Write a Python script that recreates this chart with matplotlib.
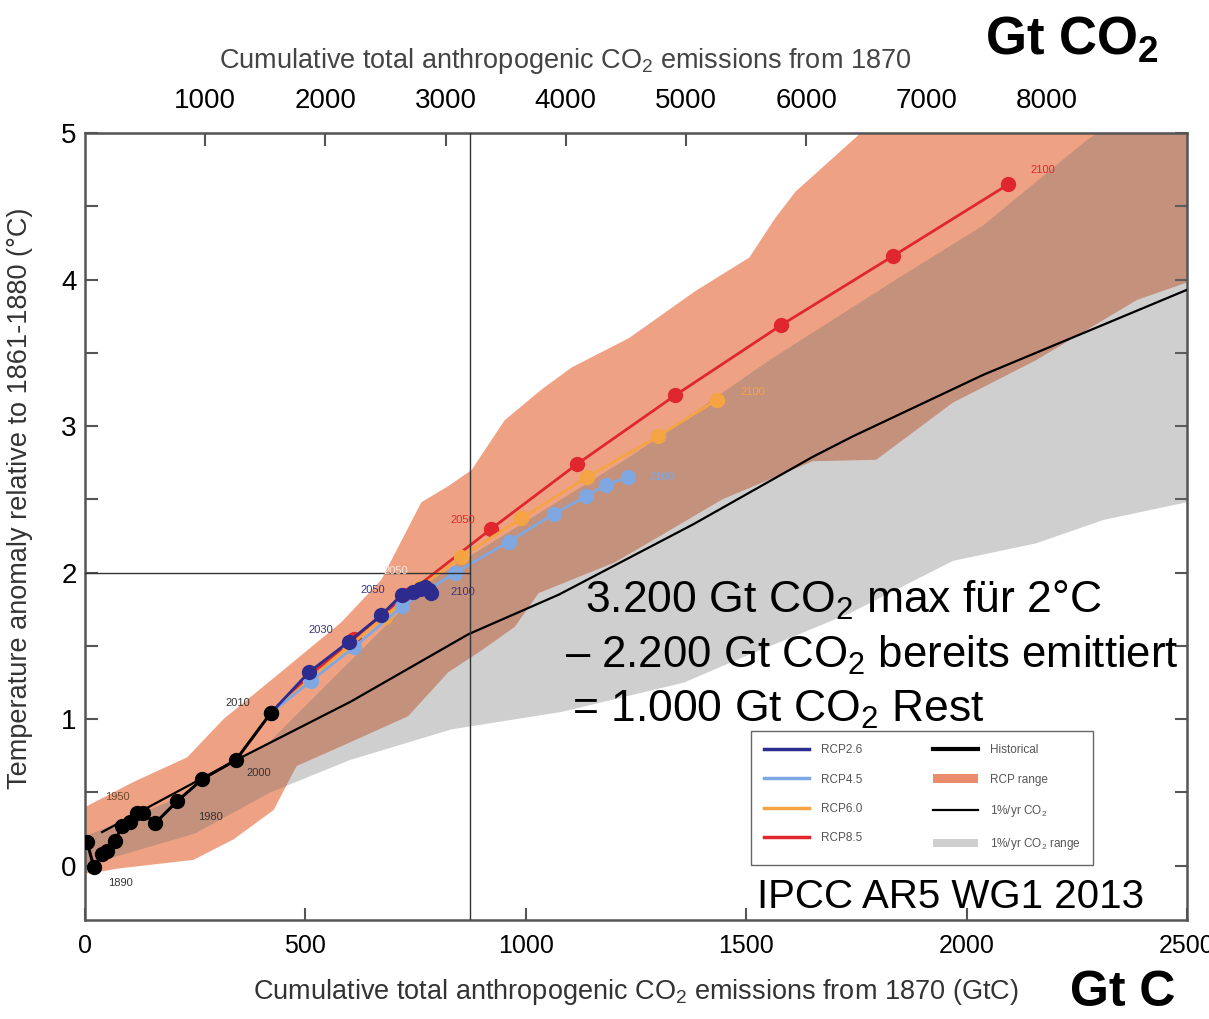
import matplotlib
matplotlib.use("Agg")
import matplotlib.pyplot as plt
from matplotlib.lines import Line2D
from matplotlib.patches import Patch

plt.rcParams["font.family"] = ["Liberation Sans", "DejaVu Sans"]
plt.rcParams["mathtext.fontset"] = "custom"
plt.rcParams["mathtext.rm"] = "Liberation Sans"
plt.rcParams["mathtext.it"] = "Liberation Sans:italic"
plt.rcParams["mathtext.bf"] = "Liberation Sans:bold"

CO2_PER_C = 44.0 / 12.0

# historical, 1870-2010 (GtC, degC)
hist_x = [5, 20, 39, 50, 68, 84, 102, 118, 132, 159, 209, 266, 342, 421]
hist_y = [0.16, -0.01, 0.08, 0.10, 0.17, 0.27, 0.30, 0.36, 0.36, 0.29, 0.44, 0.59, 0.72, 1.04]

# RCP scenarios, decades 2010-2100
rcp26_x = [421, 508, 599, 672, 719, 744, 760, 772, 781, 786]
rcp26_y = [1.04, 1.32, 1.53, 1.71, 1.85, 1.87, 1.89, 1.90, 1.88, 1.86]
rcp45_x = [421, 512, 610, 720, 840, 961, 1063, 1136, 1182, 1232]
rcp45_y = [1.04, 1.26, 1.49, 1.77, 2.00, 2.21, 2.40, 2.52, 2.60, 2.65]
rcp60_x = [421, 510, 600, 680, 760, 854, 990, 1138, 1300, 1434]
rcp60_y = [1.04, 1.27, 1.50, 1.70, 1.90, 2.11, 2.37, 2.65, 2.93, 3.18]
rcp85_x = [421, 510, 610, 730, 922, 1116, 1339, 1580, 1833, 2095]
rcp85_y = [1.04, 1.30, 1.55, 1.85, 2.30, 2.74, 3.21, 3.69, 4.16, 4.65]

# 1%/yr CO2 runs
pct_x = [39, 342, 603, 870, 1075, 1380, 1651, 1742, 2038, 2500]
pct_y = [0.23, 0.72, 1.12, 1.58, 1.85, 2.33, 2.79, 2.93, 3.35, 3.93]

# RCP range
rcp_up_x = [0, 109, 232, 314, 444, 581, 672, 763, 824, 877, 952, 1036, 1104, 1234, 1384, 1507, 1566, 1612, 1760, 2500]
rcp_up_y = [0.40, 0.57, 0.74, 1.00, 1.32, 1.66, 1.95, 2.48, 2.59, 2.70, 3.04, 3.25, 3.40, 3.60, 3.92, 4.15, 4.42, 4.60, 5.00, 6.50]
rcp_lo_x = [0, 18, 73, 246, 337, 428, 480, 600, 733, 824, 900, 975, 1029, 1202, 1316, 1446, 1651, 1795, 1969, 2158, 2386, 2500]
rcp_lo_y = [-0.05, -0.05, -0.02, 0.04, 0.18, 0.38, 0.68, 0.84, 1.02, 1.32, 1.47, 1.63, 1.86, 2.07, 2.27, 2.50, 2.76, 2.77, 3.16, 3.45, 3.86, 3.98]

# 1%/yr CO2 range
pct_up_x = [0, 200, 420, 786, 1241, 1553, 1840, 2038, 2272, 2500]
pct_up_y = [0.20, 0.45, 0.85, 1.95, 2.80, 3.45, 4.00, 4.37, 4.95, 5.40]
pct_lo_x = [0, 250, 420, 600, 831, 1082, 1359, 1491, 1733, 1969, 2158, 2311, 2500]
pct_lo_y = [0.00, 0.22, 0.50, 0.72, 0.93, 1.05, 1.25, 1.42, 1.72, 2.08, 2.20, 2.36, 2.48]

budget_gtc = 3200 / CO2_PER_C  # 3.200 Gt CO2
budget_temp = 2.0

top_ticks = [1000, 2000, 3000, 4000, 5000, 6000, 7000, 8000, 9000]
top_labels = ["1000", "2000", "3000", "4000", "5000", "6000", "7000", "8000", ""]

c26 = "#2e2b8f"
c45 = "#7fa8e2"
c60 = "#f5a443"
c85 = "#e0272c"
salmon = "#eea283"
axcol = "#555555"

fig = plt.figure(figsize=(12.09, 10.19), dpi=100)
ax = fig.add_axes([0.0703, 0.0972, 0.9115, 0.7723])

ax.fill(rcp_up_x + rcp_lo_x[::-1], rcp_up_y + rcp_lo_y[::-1], color=salmon, lw=0, zorder=1)
ax.fill(pct_up_x + pct_lo_x[::-1], pct_up_y + pct_lo_y[::-1], color="#707070", alpha=0.33, lw=0, zorder=2)

ax.plot(pct_x, pct_y, color="black", lw=1.6, zorder=3)

ms = 10
ax.plot(rcp85_x, rcp85_y, color=c85, lw=2, marker="o", ms=ms, zorder=4)
ax.plot(rcp60_x, rcp60_y, color=c60, lw=2, marker="o", ms=ms, zorder=4)
ax.plot(rcp45_x, rcp45_y, color=c45, lw=2, marker="o", ms=ms, zorder=4)
ax.plot(rcp26_x, rcp26_y, color=c26, lw=2, marker="o", ms=ms, zorder=5)
ax.plot(hist_x, hist_y, color="black", lw=2.2, marker="o", ms=ms, zorder=6)

# budget guide lines
ax.axvline(budget_gtc, color="#333333", lw=1, zorder=7)
ax.plot([0, budget_gtc], [budget_temp, budget_temp], color="#333333", lw=1, zorder=7)

yr = dict(fontsize=8, zorder=8, ha="center", va="center")
ax.text(80, -0.12, "1890", color="#333333", **yr)
ax.text(73, 0.47, "1950", color="#6b4a30", **yr)
ax.text(285, 0.33, "1980", color="#333333", **yr)
ax.text(394, 0.63, "2000", color="#333333", **yr)
ax.text(346, 1.11, "2010", color="#333333", **yr)
ax.text(535, 1.61, "2030", color="#3a3580", **yr)
ax.text(653, 1.88, "2050", color="#3a3580", **yr)
ax.text(706, 2.01, "2050", color="#f8e4da", **yr)
ax.text(858, 1.87, "2100", color="#3a3580", **yr)
ax.text(858, 2.36, "2050", color=c85, **yr)
ax.text(2174, 4.75, "2100", color=c85, **yr)
ax.text(1514, 3.23, "2100", color=c60, **yr)
ax.text(1309, 2.65, "2100", color=c45, **yr)

ax.set_xlim(0, 2500)
ax.set_ylim(-0.37, 5)
ax.set_xticks([0, 500, 1000, 1500, 2000, 2500])
ax.set_yticks([0, 1, 2, 3, 4, 5])
ax.set_yticks([0.5, 1.5, 2.5, 3.5, 4.5], minor=True)
ax.tick_params(axis="both", direction="in", length=9, width=1.5, color=axcol, labelsize=18)
ax.tick_params(axis="y", which="both", right=True, direction="in", length=9, width=1.5, color=axcol)
ax.tick_params(axis="y", labelsize=20, pad=6)
ax.tick_params(axis="x", pad=10)
for s in ax.spines.values():
    s.set_color(axcol)
    s.set_linewidth(1.8)

ax.set_xlabel("Cumulative total anthropogenic CO$_2$ emissions from 1870 (GtC)", fontsize=19.5, color="#333333")
ax.xaxis.set_label_coords(0.5, -0.072)
ax.set_ylabel("Temperature anomaly relative to 1861-1880 (°C)", fontsize=19.5, color="#333333")
ax.yaxis.set_label_coords(-0.047, 0.536)

top = ax.secondary_xaxis("top", functions=(lambda x: x * CO2_PER_C, lambda x: x / CO2_PER_C))
top.set_xticks(top_ticks, top_labels)
top.tick_params(direction="in", length=9, width=1.5, color=axcol, labelsize=20, pad=14)
top.set_xlabel("Cumulative total anthropogenic CO$_2$ emissions from 1870", fontsize=19.5, color="#444444")
top.xaxis.set_label_coords(0.436, 1.083, transform=ax.transAxes)

handles = [
    Line2D([], [], color=c26, lw=2.5),
    Line2D([], [], color=c45, lw=2.5),
    Line2D([], [], color=c60, lw=2.5),
    Line2D([], [], color=c85, lw=2.5),
    Line2D([], [], color="black", lw=3),
    Patch(facecolor="#eb8c6c", edgecolor="none"),
    Line2D([], [], color="black", lw=1.6),
    Patch(facecolor="#cfcfcf", edgecolor="none"),
]
labels = ["RCP2.6", "RCP4.5", "RCP6.0", "RCP8.5", "Historical", "RCP range",
          "1%/yr CO$_2$", "1%/yr CO$_2$ range"]
leg = ax.legend(handles, labels, ncol=2, loc="upper left", bbox_to_anchor=(0.599, 0.247),
                fontsize=8.5, frameon=True, fancybox=False, edgecolor="#666666",
                handlelength=3.8, handletextpad=1.0, columnspacing=6.0,
                labelspacing=1.45, borderpad=1.1, framealpha=1)
for t in leg.get_texts():
    t.set_color("#555555")
leg.set_zorder(9)

fig.text(585 / 1209, 1 - 600 / 1019, "3.200 Gt CO$_2$ max für 2°C", fontsize=32, va="center", ha="left")
fig.text(565 / 1209, 1 - 655 / 1019, "– 2.200 Gt CO$_2$ bereits emittiert", fontsize=31.5, va="center", ha="left")
fig.text(572 / 1209, 1 - 710 / 1019, "= 1.000 Gt CO$_2$ Rest", fontsize=32, va="center", ha="left")
fig.text(757 / 1209, 1 - 897 / 1019, "IPCC AR5 WG1 2013", fontsize=29, va="center", ha="left")
fig.text(985 / 1209, 1 - 40 / 1019, r"Gt CO$_\mathbf{2}$", fontsize=38, fontweight="bold", va="center", ha="left")
fig.text(1070 / 1209, 1 - 993 / 1019, "Gt C", fontsize=36, fontweight="bold", va="center", ha="left")

fig.savefig("out.png", dpi=100)
